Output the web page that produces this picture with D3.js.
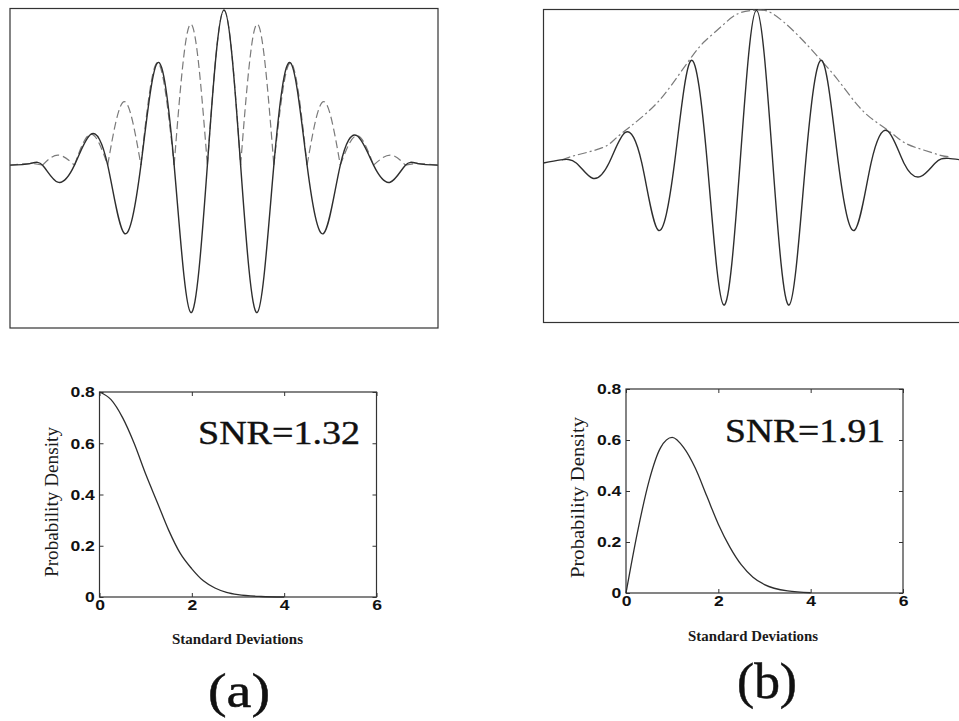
<!DOCTYPE html>
<html>
<head>
<meta charset="utf-8">
<script src="https://d3js.org/d3.v7.min.js"></script>
<style>
  body { margin: 0; background: #fff; }
</style>
</head>
<body>
<div id="chart"></div>
<script>
// ---- values ----
// (a) top panel: modulated wave (solid) and its rectified copy (dashed)
var waveAX = [-3.22, -2.92, -2.73, -2.5, -2.25, -2.0, -1.75, -1.5, -1.25, -1.0, -0.75, -0.5, -0.25, 0,
              0.25, 0.5, 0.75, 1.0, 1.25, 1.5, 1.75, 2.0, 2.25, 2.5, 2.73, 2.92, 3.22];
var waveAY = [0, 0.01, 0, -0.11, 0, 0.20, 0, -0.44, 0, 0.66, 0, -0.95, 0, 1.0,
              0, -0.95, 0, 0.66, 0, -0.44, 0, 0.19, 0, -0.11, 0, 0.01, 0];
var rectAY = [0, 0.01, 0, 0.065, 0, 0.20, 0, 0.41, 0, 0.66, 0, 0.91, 0, 1.0,
              0, 0.91, 0, 0.66, 0, 0.41, 0, 0.19, 0, 0.065, 0, 0.01, 0];

// (b) top panel: modulated wave (solid) and its envelope (dash-dot)
var waveBX = [-3.25, -2.99, -2.75, -2.5, -2.25, -2.0, -1.75, -1.5, -1.25, -1.0, -0.75, -0.5, -0.25, 0,
              0.25, 0.5, 0.75, 1.0, 1.25, 1.5, 1.75, 2.0, 2.25, 2.5, 2.73, 2.93, 3.27];
var waveBY = [0, 0.02, 0, -0.10, 0, 0.20, 0, -0.44, 0, 0.67, 0, -0.93, 0, 1.0,
              0, -0.93, 0, 0.67, 0, -0.44, 0, 0.21, 0, -0.09, 0, 0.03, 0.01];
var envBX = [-2.97, -2.76, -2.35, -2.15, -1.92, -1.57, -1.28, -0.98, -0.78, -0.52, -0.27, 0,
             0.24, 0.60, 0.95, 1.25, 1.54, 1.79, 2.05, 2.27, 2.55, 2.81, 2.96];
var envBY = [0.02, 0.05, 0.10, 0.16, 0.24, 0.37, 0.52, 0.70, 0.80, 0.90, 0.98, 1.0,
             0.98, 0.85, 0.69, 0.54, 0.38, 0.28, 0.20, 0.13, 0.085, 0.05, 0.04];

// bottom panels: probability density vs standard deviations
var sdX   = [0, 0.25, 0.5, 0.75, 1.0, 1.25, 1.5, 1.75, 2.0, 2.25, 2.5, 2.75, 3.0, 3.5, 4.0];
var densA = [0.80, 0.77, 0.70, 0.60, 0.48, 0.37, 0.26, 0.17, 0.11, 0.063, 0.035, 0.018, 0.009, 0.002, 0.0];
var densB = [0, 0.24, 0.44, 0.57, 0.61, 0.57, 0.49, 0.38, 0.27, 0.18, 0.11, 0.062, 0.033, 0.008, 0.001];

var xTicks = [0, 2, 4, 6];
var yTicks = [0, 0.2, 0.4, 0.6, 0.8];
var yTickLabels = ["0", "0.2", "0.4", "0.6", "0.8"];
var snrLabels = ["SNR=1.32", "SNR=1.91"];
var panelLabels = ["(a)", "(b)"];

// ---- layout ----
var W = 959, H = 721;
var SX = 1.17;   // the scan is a little wide, text follows it
var ink = "#2e2e2e";

var svg = d3.select("#chart").append("svg")
    .attr("width", W)
    .attr("height", H)
    .style("background", "#fff");

function frame(f) {
    svg.append("rect")
        .attr("x", f.x0).attr("y", f.y0)
        .attr("width", f.x1 - f.x0).attr("height", f.y1 - f.y0)
        .attr("fill", "none")
        .attr("stroke", "#333")
        .attr("stroke-width", 1.2);
}

// split a rectified series into lobes at its zeros
function lobes(xs, ys) {
    var out = [], cur = [];
    xs.forEach(function(x, i) {
        cur.push([x, ys[i]]);
        if (ys[i] === 0 && cur.length > 1) { out.push(cur); cur = [[x, 0]]; }
    });
    if (cur.length > 1) out.push(cur);
    return out;
}

// ---- top left ----
var fA = {x0: 10, x1: 438, y0: 8.5, y1: 328};
var xA = d3.scaleLinear().domain([-3.22, 3.22]).range([fA.x0, fA.x1]);
var yA = d3.scaleLinear().domain([-1.05, 1.01]).range([fA.y1, fA.y0]);
frame(fA);

var lineA = d3.line().x(function(d) { return xA(d[0]); })
                     .y(function(d) { return yA(d[1]); })
                     .curve(d3.curveNatural);

svg.append("g").selectAll("path")
    .data(lobes(waveAX, rectAY))
    .enter().append("path")
    .attr("d", lineA)
    .attr("fill", "none")
    .attr("stroke", "#7a7a7a")
    .attr("stroke-width", 1.2)
    .attr("stroke-dasharray", "8,4");

svg.append("path")
    .datum(waveAX.map(function(x, i) { return [x, waveAY[i]]; }))
    .attr("d", lineA)
    .attr("fill", "none")
    .attr("stroke", ink)
    .attr("stroke-width", 1.4);

// ---- top right ----
var fB = {x0: 543.5, x1: 972, y0: 9.5, y1: 322.5};
var xB = d3.scaleLinear().domain([-3.25, 3.29]).range([fB.x0, fB.x1]);
var yB = d3.scaleLinear().domain([-1.045, 1.005]).range([fB.y1, fB.y0]);
frame(fB);

var lineB = d3.line().x(function(d) { return xB(d[0]); })
                     .y(function(d) { return yB(d[1]); })
                     .curve(d3.curveNatural);

svg.append("path")
    .datum(envBX.map(function(x, i) { return [x, envBY[i]]; }))
    .attr("d", lineB)
    .attr("fill", "none")
    .attr("stroke", "#7a7a7a")
    .attr("stroke-width", 1.2)
    .attr("stroke-dasharray", "9,3,2,3");

svg.append("path")
    .datum(waveBX.map(function(x, i) { return [x, waveBY[i]]; }))
    .attr("d", lineB)
    .attr("fill", "none")
    .attr("stroke", ink)
    .attr("stroke-width", 1.4);

// ---- bottom density panels ----
function densityPanel(f, dens, lab) {
    var x = d3.scaleLinear().domain([0, 6]).range([f.x0, f.x1]);
    var y = d3.scaleLinear().domain([0, 0.8]).range([f.y1, f.y0]);

    var tickFont = function(sel) {
        sel.select(".domain").remove();
        sel.selectAll("line").attr("stroke", "#333");
        sel.selectAll("text")
           .attr("fill", "#111")
           .style("font-family", "'Liberation Sans', Arial, sans-serif")
           .style("font-weight", "bold")
           .style("font-size", "15px");
    };

    svg.append("g").attr("transform", "translate(" + f.x0 + ",0)")
       .call(d3.axisLeft(y).tickValues(yTicks).tickSize(-4).tickPadding(4)
             .tickFormat(function(d, i) { return yTickLabels[i]; }))
       .call(tickFont)
       .selectAll("text").attr("transform", "scale(" + SX + ",1)");

    svg.append("g").attr("transform", "translate(0," + f.y1 + ")")
       .call(d3.axisBottom(x).tickValues(xTicks).tickSize(-4).tickPadding(2)
             .tickFormat(d3.format("d")))
       .call(tickFont)
       .selectAll("text").attr("transform", "scale(" + SX + ",1)");

    svg.append("g").attr("transform", "translate(" + f.x1 + ",0)")
       .call(d3.axisRight(y).tickValues(yTicks).tickSize(-4).tickFormat(""))
       .call(tickFont);
    svg.append("g").attr("transform", "translate(0," + f.y0 + ")")
       .call(d3.axisTop(x).tickValues(xTicks).tickSize(-4).tickFormat(""))
       .call(tickFont);

    frame(f);

    svg.append("path")
        .datum(sdX.map(function(v, i) { return [v, dens[i]]; }))
        .attr("d", d3.line().x(function(d) { return x(d[0]); })
                            .y(function(d) { return y(d[1]); })
                            .curve(d3.curveMonotoneX))
        .attr("fill", "none")
        .attr("stroke", ink)
        .attr("stroke-width", 1.3);

    var serif = "'Liberation Serif', 'Times New Roman', serif";

    svg.append("text")
        .attr("x", lab.snrX).attr("y", lab.snrY)
        .attr("textLength", lab.snrW).attr("lengthAdjust", "spacingAndGlyphs")
        .style("font-family", serif).style("font-size", "33px")
        .attr("fill", "#111").attr("stroke", "#111").attr("stroke-width", 0.4)
        .text(lab.snr);

    svg.append("text")
        .attr("x", lab.xlX).attr("y", lab.xlY)
        .attr("textLength", lab.xlW).attr("lengthAdjust", "spacingAndGlyphs")
        .style("font-family", serif).style("font-size", "14px")
        .style("font-weight", "bold")
        .attr("fill", "#1a1a1a")
        .text("Standard Deviations");

    svg.append("text")
        .attr("transform", "translate(" + lab.ylX + "," + lab.ylY + ") rotate(-90)")
        .attr("text-anchor", "middle")
        .attr("textLength", lab.ylW).attr("lengthAdjust", "spacingAndGlyphs")
        .style("font-family", serif).style("font-size", "18px")
        .attr("fill", "#1a1a1a")
        .text("Probability Density");

    svg.append("text")
        .attr("x", lab.pX).attr("y", lab.pY)
        .attr("textLength", lab.pW).attr("lengthAdjust", "spacingAndGlyphs")
        .style("font-family", serif).style("font-size", lab.pSize + "px")
        .attr("fill", "#111").attr("stroke", "#111").attr("stroke-width", 0.5)
        .text(lab.panel);
}

densityPanel({x0: 99.5, x1: 376.5, y0: 392, y1: 597}, densA,
    {snr: snrLabels[0], snrX: 198, snrY: 444, snrW: 162,
     xlX: 172, xlY: 644, xlW: 131,
     ylX: 58, ylY: 502, ylW: 150,
     panel: panelLabels[0], pX: 208, pY: 707, pW: 62, pSize: 48});

densityPanel({x0: 626, x1: 903, y0: 389, y1: 593}, densB,
    {snr: snrLabels[1], snrX: 725, snrY: 441.5, snrW: 160,
     xlX: 688, xlY: 641, xlW: 130,
     ylX: 584, ylY: 497.5, ylW: 161,
     panel: panelLabels[1], pX: 737, pY: 698, pW: 60, pSize: 50});
</script>
</body>
</html>
